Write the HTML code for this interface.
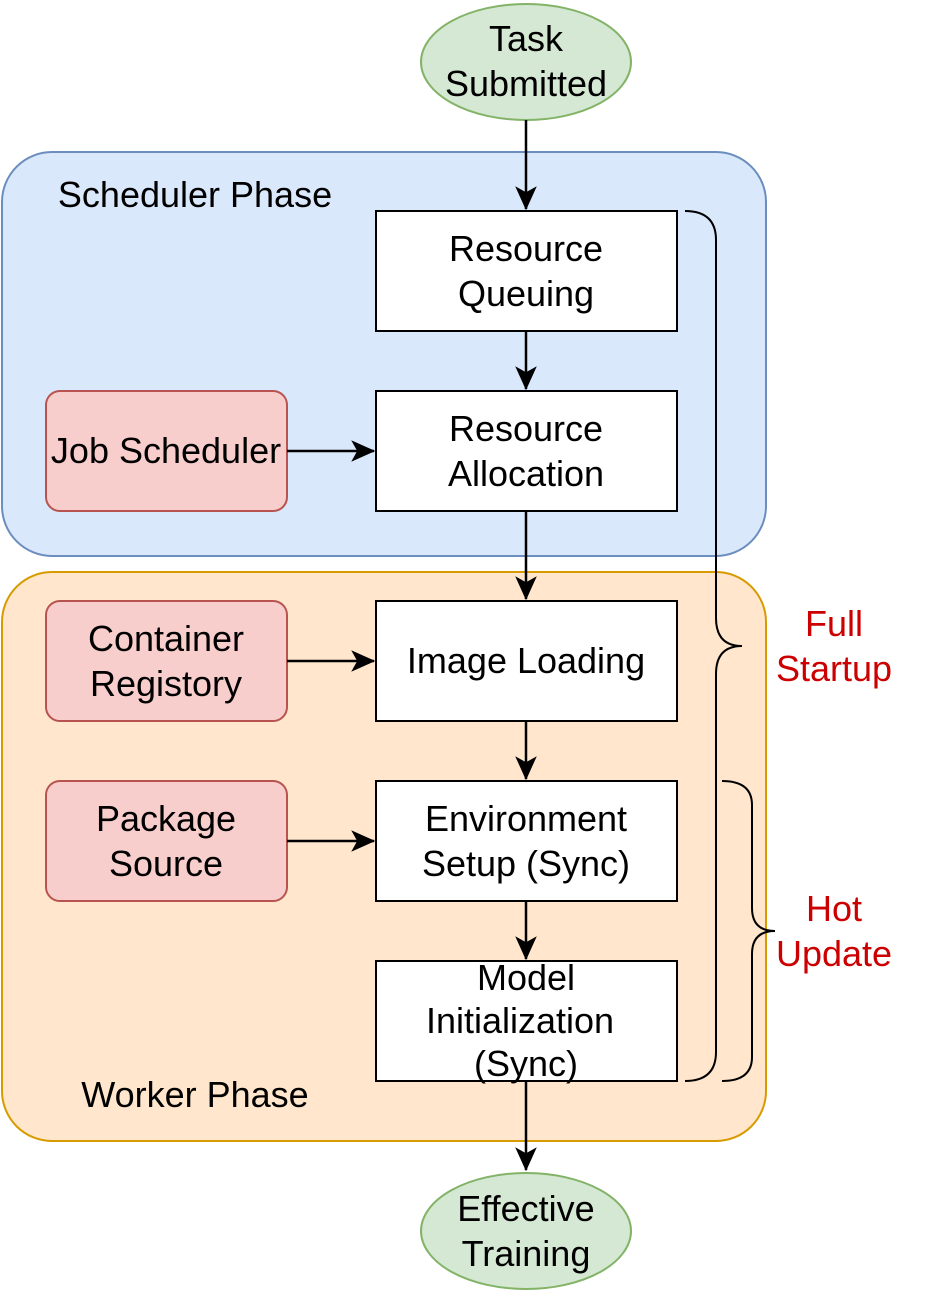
<!DOCTYPE html>
<html><head><meta charset="utf-8"><style>html,body{margin:0;padding:0;background:#fff}svg{display:block}text{font-family:"Liberation Sans",Arial,sans-serif;font-size:36px;fill:#000}text.r{fill:#cc0000}</style></head><body>
<svg width="927" height="1293" viewBox="0 0 927 1293" xmlns="http://www.w3.org/2000/svg">
<defs>
<marker id="b" viewBox="0 0 20 20" markerWidth="24" markerHeight="24" refX="19" refY="10" orient="auto" markerUnits="userSpaceOnUse"><path d="M0,1 L20,10 L0,19 L5,10 Z" fill="#000"/></marker></defs>
<rect x="2" y="152" width="764" height="404" rx="50" fill="#dae8fc" stroke="#6c8ebf" stroke-width="2"/>
<rect x="2" y="572" width="764" height="569" rx="50" fill="#ffe6cc" stroke="#d79b00" stroke-width="2"/>
<text x="195" y="207" text-anchor="middle">Scheduler Phase</text>
<text x="195" y="1107" text-anchor="middle">Worker Phase</text>
<ellipse cx="526" cy="62" rx="105" ry="58" fill="#d5e8d4" stroke="#82b366" stroke-width="2"/>
<text x="526" y="51" text-anchor="middle">Task</text><text x="526" y="96" text-anchor="middle">Submitted</text>
<ellipse cx="526" cy="1231" rx="105" ry="58" fill="#d5e8d4" stroke="#82b366" stroke-width="2"/>
<text x="526" y="1221" text-anchor="middle">Effective</text><text x="526" y="1266" text-anchor="middle">Training</text>
<g fill="#fff" stroke="#000" stroke-width="2">
<rect x="376" y="211" width="301" height="120"/><rect x="376" y="391" width="301" height="120"/><rect x="376" y="601" width="301" height="120"/><rect x="376" y="781" width="301" height="120"/><rect x="376" y="961" width="301" height="120"/></g>
<g fill="#f8cecc" stroke="#b85450" stroke-width="2">
<rect x="46" y="391" width="241" height="120" rx="14"/><rect x="46" y="601" width="241" height="120" rx="14"/><rect x="46" y="781" width="241" height="120" rx="14"/></g>
<g text-anchor="middle">
<text x="526" y="261">Resource</text><text x="526" y="306">Queuing</text>
<text x="526" y="441">Resource</text><text x="526" y="486">Allocation</text>
<text x="526" y="673">Image Loading</text>
<text x="526" y="831">Environment</text><text x="526" y="876">Setup (Sync)</text>
<text x="526" y="990">Model</text><text x="520" y="1033">Initialization</text><text x="526" y="1076">(Sync)</text>
<text x="166" y="463">Job Scheduler</text>
<text x="166" y="651">Container</text><text x="166" y="696">Registory</text>
<text x="166" y="831">Package</text><text x="166" y="876">Source</text>
</g>
<g stroke="#000" stroke-width="2.5" fill="none" marker-end="url(#b)">
<line x1="526" y1="120" x2="526" y2="209"/><line x1="526" y1="331" x2="526" y2="389"/><line x1="526" y1="511" x2="526" y2="599"/><line x1="526" y1="721" x2="526" y2="779"/><line x1="526" y1="901" x2="526" y2="959"/><line x1="526" y1="1081" x2="526" y2="1170"/>
<line x1="287" y1="451" x2="374" y2="451"/><line x1="287" y1="661" x2="374" y2="661"/><line x1="287" y1="841" x2="374" y2="841"/>
</g>
<g stroke="#000" stroke-width="2" fill="none">
<path d="M685,211 Q716,211 716,240 L716,618 Q716,646 742,646 Q716,646 716,674 L716,1052 Q716,1081 685,1081"/>
<path d="M722,781 Q752,781 752,805 L752,908 Q752,931 775,931 Q752,931 752,954 L752,1057 Q752,1081 722,1081"/>
</g>
<g text-anchor="middle">
<text class="r" x="834" y="636">Full</text><text class="r" x="834" y="681">Startup</text>
<text class="r" x="834" y="921">Hot</text><text class="r" x="834" y="966">Update</text>
</g>
</svg></body></html>
